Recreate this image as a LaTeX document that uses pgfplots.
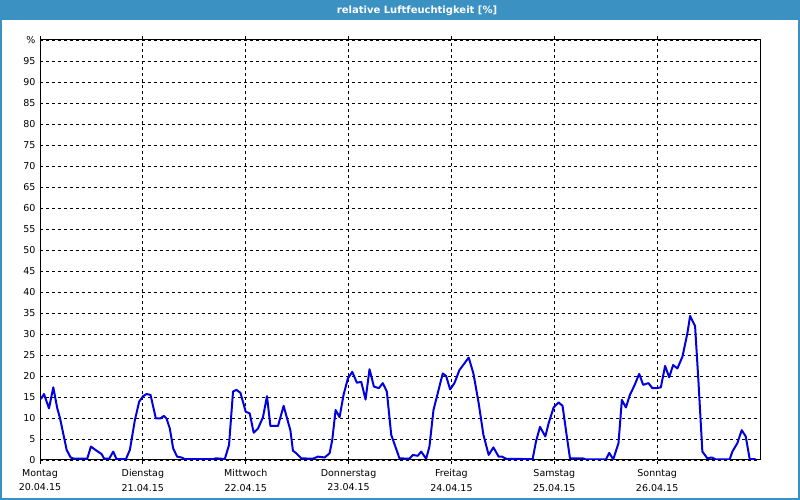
\documentclass[border=0pt]{standalone}
\usepackage{fontspec}
\setmainfont{DejaVu Sans}
\usepackage{pgfplots}
\pgfplotsset{compat=1.18}
\usepackage{pgfplotstable}

\definecolor{titlebar}{HTML}{3C91C3}
\definecolor{lineblue}{HTML}{0000E0}

% hours since Monday 20.04.15 00:00, relative humidity in %
\pgfplotstableread{
h      rh
0.2    14.5
0.93   15.7
2.10   12.3
3.10   17.3
4.03   12.3
4.66   10.0
6.22   2.4
7.15   0.6
7.92   0.3
11.02  0.3
11.88  3.2
13.21  2.2
14.38  1.4
14.98  0.3
16.15  0.3
17.08  2.0
17.87  0.2
20.04  0.2
20.97  2.4
22.14  9.5
23.14  13.9
24.07  15.2
24.86  15.7
25.79  15.5
27.03  9.9
28.12  9.9
28.89  10.5
29.52  9.9
30.29  7.5
31.06  2.8
31.99  0.8
33.02  0.6
33.79  0.2
40.38  0.2
41.01  0.4
42.34  0.3
43.11  0.2
44.11  3.6
45.04  16.3
45.83  16.7
46.77  16.0
48.00  11.5
48.93  11.1
49.86  6.5
50.87  7.5
52.03  10.2
52.96  15.2
53.76  8.1
55.53  8.1
56.85  12.9
57.62  10.0
58.42  7.1
59.02  2.2
59.81  1.6
60.98  0.4
63.68  0.3
64.85  0.8
66.41  0.6
67.57  1.6
68.20  4.8
68.97  11.9
69.90  10.2
70.83  15.5
71.83  19.4
72.86  21.0
73.93  18.4
74.96  18.6
75.96  14.4
76.89  21.6
77.90  17.5
79.06  17.1
79.99  18.3
80.93  16.3
81.95  6.0
83.88  0.4
86.21  0.3
86.98  1.2
88.15  1.0
88.94  2.0
90.10  0.3
90.87  3.2
91.81  11.9
92.81  15.9
93.97  20.6
94.76  20.0
95.70  16.8
96.70  18.3
97.86  21.4
99.03  23.0
100.03 24.4
101.13 20.6
102.36 13.5
103.46 6.0
104.69 1.2
105.79 3.0
107.02 0.8
107.81 0.8
108.75 0.3
114.94 0.2
115.73 4.4
116.67 7.9
117.90 5.6
118.67 8.7
119.84 12.5
121.00 13.7
121.93 12.9
122.87 6.0
123.66 0.4
126.59 0.4
127.38 0.15
132.05 0.15
132.82 1.7
133.75 0.15
134.98 4.0
135.77 14.3
136.71 12.5
137.64 15.5
138.64 17.6
139.81 20.5
140.74 17.9
141.97 18.3
142.90 17.1
143.84 17.1
144.86 17.3
145.86 22.4
146.80 19.7
147.73 22.6
148.73 21.8
149.90 24.6
151.06 30.2
151.69 34.3
152.85 31.9
153.62 19.0
154.55 2.0
155.72 0.4
156.74 0.6
157.67 0.15
160.93 0.15
161.55 2.0
162.71 4.0
163.74 7.1
164.67 5.6
165.60 0.2
167.0  0.2
}\rhdata

\begin{document}
\begin{tikzpicture}
  % page, frame and title bar
  \fill[white] (0pt,0pt) rectangle (800pt,500pt);
  \fill[titlebar] (0pt,480pt) rectangle (800pt,500pt);
  \draw[titlebar, line width=2pt] (1pt,1pt) rectangle (799pt,499pt);
  \node[text=white, font=\fontsize{10}{12}\bfseries\selectfont] at (417pt,489.5pt) {relative Luftfeuchtigkeit [\%]};

  \begin{axis}[
      at={(40pt,40pt)}, anchor=south west,
      width=720pt, height=420pt,
      scale only axis,
      xmin=0, xmax=168,
      ymin=0, ymax=100,
      xtick={0,24,...,144},
      xticklabels={{Montag\\20.04.15},{Dienstag\\21.04.15},{Mittwoch\\22.04.15},
                   {Donnerstag\\23.04.15},{Freitag\\24.04.15},{Samstag\\25.04.15},
                   {Sonntag\\26.04.15}},
      ytick={0,5,...,100},
      yticklabels={0,5,10,15,20,25,30,35,40,45,50,55,60,65,70,75,80,85,90,95,\%},
      /pgf/number format/assume math mode=true,
      ticklabel style={font=\fontsize{9.5}{14.5}\selectfont},
      xticklabel style={align=center, yshift=-2pt},
      yticklabel style={xshift=3pt},
      xmajorgrids, ymajorgrids,
      grid style={black, line width=0.8pt, dash pattern=on 3pt off 3pt},
      tick align=outside,
      major tick length=4pt,
      xtick style={black, line width=0.8pt, dash pattern=on 3pt off 3pt},
      ytick style={draw=none},
      axis line style={black, line width=1pt},
      clip=true,
    ]
    \addplot[lineblue, line width=2pt, no marks, line join=round] table[x=h, y=rh] {\rhdata};
  \end{axis}
\end{tikzpicture}
\end{document}
